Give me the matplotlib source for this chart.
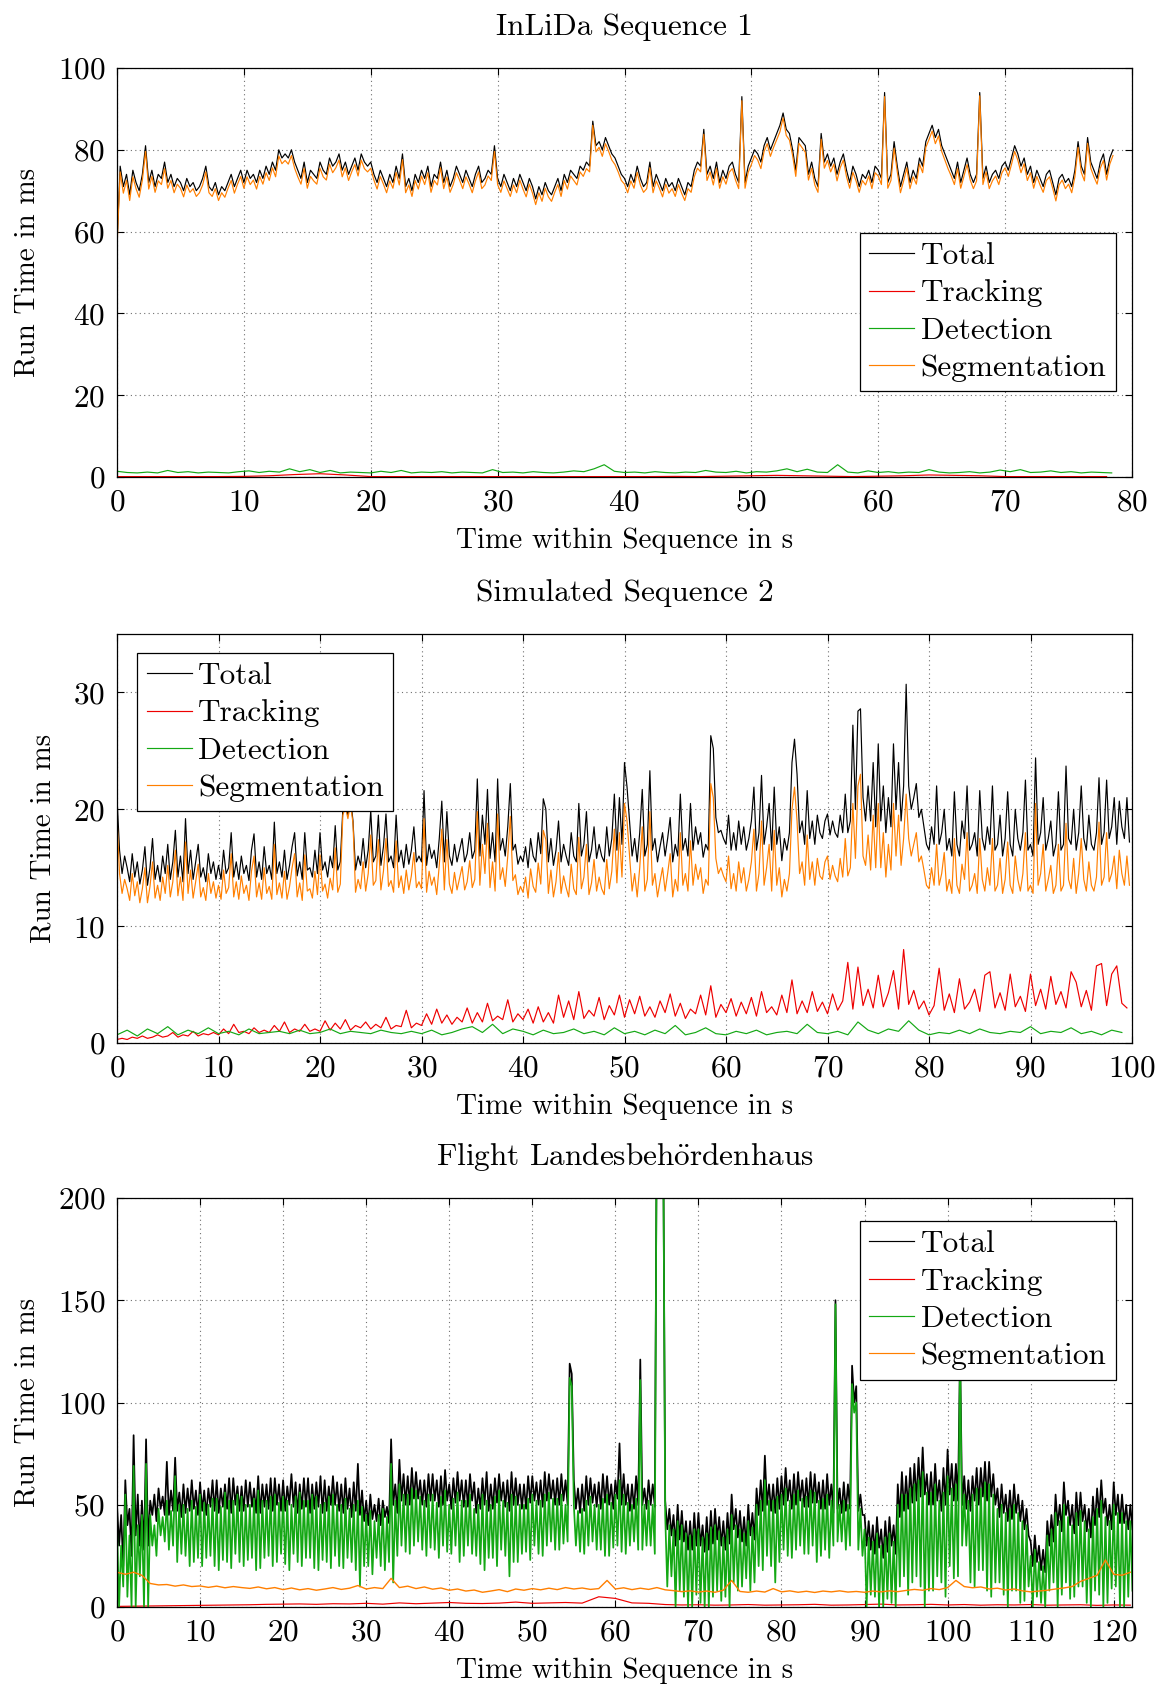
import numpy as np
import matplotlib
matplotlib.use("Agg")
import matplotlib.pyplot as plt
from matplotlib.lines import Line2D

plt.rcParams['font.family'] = 'serif'
plt.rcParams['font.serif'] = ['cmr10', 'DejaVu Serif']
plt.rcParams['mathtext.fontset'] = 'cm'
plt.rcParams['axes.formatter.use_mathtext'] = True
plt.rcParams['axes.unicode_minus'] = False

FS = 22.5       # titles, ticks, legend
FS_LAB = 21     # axis labels
C_TOT, C_TRK, C_DET, C_SEG = 'black', '#ee0000', '#14a814', '#ff7f00'
names = ['Total', 'Tracking', 'Detection', 'Segmentation']

# ---------- InLiDa Sequence 1 (total / segmentation every 0.25 s) ----------
dt1 = 0.25
total1 = [57, 76, 71, 74, 69, 75, 72, 70, 74, 81, 72, 75, 71, 74, 73, 77, 72, 74, 71, 73,
          72, 70, 73, 71, 72, 70, 71, 73, 76, 71, 70, 72, 69, 71, 70, 72, 74, 71, 73, 75,
          72, 75, 73, 74, 72, 75, 73, 76, 74, 77, 75, 80, 78, 79, 78, 80, 77, 75, 73, 77,
          72, 75, 74, 73, 77, 75, 74, 78, 76, 77, 79, 75, 77, 74, 76, 78, 75, 79, 77, 76,
          77, 74, 72, 75, 73, 71, 74, 72, 76, 73, 79, 71, 73, 70, 74, 72, 75, 73, 76, 71,
          74, 73, 77, 72, 75, 71, 73, 76, 74, 72, 75, 73, 71, 74, 76, 72, 73, 75, 74, 81,
          73, 71, 74, 72, 70, 73, 71, 74, 72, 70, 73, 71, 68, 71, 69, 72, 70, 69, 71, 73,
          70, 74, 72, 75, 74, 73, 76, 75, 77, 76, 87, 81, 82, 80, 83, 81, 79, 78, 76, 74,
          73, 71, 74, 72, 76, 73, 71, 72, 77, 71, 74, 72, 70, 73, 71, 72, 70, 73, 71, 69,
          72, 71, 75, 77, 76, 85, 74, 76, 73, 77, 72, 75, 73, 76, 77, 74, 72, 93, 72, 76,
          78, 80, 79, 77, 81, 83, 80, 82, 84, 86, 89, 85, 84, 80, 75, 83, 82, 81, 74, 77,
          73, 71, 84, 77, 79, 76, 78, 74, 77, 79, 75, 72, 76, 74, 71, 74, 73, 75, 72, 76,
          75, 73, 94, 72, 74, 82, 76, 71, 74, 77, 72, 75, 73, 78, 76, 82, 84, 86, 83, 85,
          81, 79, 77, 75, 73, 77, 72, 75, 78, 74, 72, 74, 94, 73, 76, 72, 74, 75, 73, 76,
          77, 75, 78, 81, 79, 76, 78, 74, 76, 72, 75, 73, 71, 74, 75, 72, 69, 73, 74, 72,
          73, 71, 75, 82, 76, 74, 83, 77, 75, 73, 77, 79, 74, 78, 80]
seg1 = [56, 74.6, 69.4, 72.5, 67.6, 73.4, 70.5, 68.4, 72.6, 79.6, 70.4, 73.5, 69.6, 72.4, 71.5, 75.4, 70.6, 72.5, 69.5, 71.6,
        70.6, 68.5, 71.4, 69.6, 70.5, 68.6, 69.5, 71.4, 74.6, 69.5, 68.6, 70.5, 67.6, 69.5, 68.4, 70.6, 72.5, 69.4, 71.6, 73.5,
        70.6, 73.4, 71.5, 72.6, 70.4, 73.5, 71.6, 74.4, 72.5, 75.6, 73.4, 78.5, 76.6, 77.4, 76.5, 78.6, 75.5, 73.4, 71.6, 75.5,
        70.6, 73.5, 72.4, 71.6, 75.5, 73.4, 72.6, 76.5, 74.4, 75.6, 77.5, 73.4, 75.6, 72.5, 74.6, 76.4, 73.6, 77.5, 75.4, 74.6,
        75.5, 72.6, 70.4, 73.5, 71.6, 69.5, 72.4, 70.6, 74.5, 71.4, 77.6, 69.5, 71.4, 68.6, 72.5, 70.4, 73.6, 71.5, 74.4, 69.6,
        72.5, 71.4, 75.6, 70.5, 73.4, 69.6, 71.5, 74.4, 72.6, 70.5, 73.4, 71.6, 69.5, 72.4, 74.6, 70.5, 71.4, 73.6, 72.5, 79.6,
        71.5, 69.6, 72.4, 70.5, 68.6, 71.4, 69.5, 72.6, 70.4, 68.5, 71.6, 69.4, 66.6, 69.5, 67.4, 70.6, 68.5, 67.4, 69.6, 71.5,
        68.6, 72.5, 70.4, 73.6, 72.5, 71.4, 74.6, 73.5, 75.4, 74.6, 86, 79.5, 80.6, 78.4, 81.5, 79.6, 77.5, 76.4, 74.6, 72.5,
        71.6, 69.5, 72.4, 70.6, 74.5, 71.4, 69.6, 70.5, 75.6, 69.5, 72.4, 70.6, 68.5, 71.6, 69.4, 70.5, 68.6, 71.5, 69.4, 67.6,
        70.5, 69.6, 73.4, 75.5, 74.6, 83.8, 72.5, 74.6, 71.4, 75.5, 70.6, 73.4, 71.6, 74.5, 75.4, 72.6, 70.5, 92, 70.6, 74.5,
        76.4, 78.6, 77.5, 75.4, 79.6, 81.5, 78.4, 80.6, 82.5, 84.4, 87.8, 83.5, 82.4, 78.6, 73.5, 81.6, 80.5, 79.4, 72.6, 75.5,
        71.4, 69.6, 82.6, 75.5, 77.4, 74.6, 76.5, 72.4, 75.6, 77.5, 73.4, 70.6, 74.5, 72.4, 69.6, 72.5, 71.4, 73.6, 70.5, 74.4,
        73.6, 71.5, 93, 70.6, 72.5, 80.4, 74.6, 69.5, 72.4, 75.6, 70.5, 73.4, 71.6, 76.5, 74.4, 80.6, 82.5, 84.6, 81.5, 83.4,
        79.6, 77.5, 75.4, 73.6, 71.5, 75.4, 70.6, 73.5, 76.4, 72.6, 70.5, 72.4, 93.2, 71.5, 74.6, 70.5, 72.4, 73.6, 71.5, 74.4,
        75.6, 73.5, 76.4, 79.6, 77.5, 74.4, 76.6, 72.5, 74.4, 70.6, 73.5, 71.4, 69.6, 72.5, 73.4, 70.6, 67.5, 71.4, 72.6, 70.5,
        71.6, 69.5, 73.4, 80.6, 74.5, 72.4, 81.6, 75.5, 73.4, 71.6, 75.5, 77.4, 72.6, 76.5, 78.6]
dt1_det = 0.8
det1 = [1.4, 1.1, 1.0, 1.2, 1.0, 1.6, 1.1, 1.3, 1.0, 1.2, 1.1, 1.0, 1.3, 1.5, 1.1, 1.4, 1.2, 2.0, 1.3, 1.8,
        1.1, 1.6, 1.0, 1.2, 1.1, 1.0, 1.4, 1.1, 1.6, 1.0, 1.2, 1.1, 1.3, 1.0, 1.2, 1.1, 1.0, 1.8, 1.1, 1.2,
        1.0, 1.3, 1.1, 1.0, 1.2, 1.5, 1.3, 2.0, 3.0, 1.4, 1.1, 1.2, 1.0, 1.3, 1.1, 1.0, 1.2, 1.1, 1.6, 1.2,
        1.1, 1.4, 1.0, 1.3, 1.2, 1.5, 2.0, 1.3, 1.9, 1.2, 1.1, 3.0, 1.2, 1.0, 1.5, 1.1, 1.3, 1.0, 1.2, 1.1,
        1.8, 1.2, 1.0, 1.1, 1.3, 1.0, 1.2, 1.7, 1.3, 1.8, 1.1, 1.2, 1.5, 1.1, 1.3, 1.0, 1.2, 1.1, 1.0]
dt1_trk = 2.0
trk1 = [0.1, 0.1, 0.1, 0.1, 0.1, 0.15, 0.3, 0.6, 0.8, 0.5, 0.1, 0.1, 0.1, 0.1, 0.1, 0.1, 0.1, 0.1, 0.1, 0.1,
        0.1, 0.1, 0.15, 0.1, 0.2, 0.3, 0.4, 0.3, 0.2, 0.1, 0.2, 0.3, 0.5, 0.4, 0.3, 0.1, 0.1, 0.1, 0.1, 0.1]

# ---------- Simulated Sequence 2 (total / segmentation every 0.25 s) ----------
dt2 = 0.25
total2 = [21, 16.5, 14.5, 16, 15, 13.8, 16.2, 14.2, 15.5, 13.6, 14.8, 16.8, 13.5, 15, 17.5, 14, 15.2, 13.8, 16, 14.5,
          17, 14, 15.5, 18.2, 14.2, 16, 13.8, 19.2, 14.5, 16.5, 14, 15.5, 17, 14.2, 15, 13.8, 16.2, 14.5, 15.5, 14,
          15.2, 14, 16.5, 14.5, 15, 18, 14.2, 15.5, 14, 16, 14.5, 15.2, 13.9, 16.5, 17.9, 14.2, 15.5, 14, 16.8, 14.5,
          15.2, 14, 18.9, 14.5, 15.5, 14.2, 16.5, 14, 15.2, 16.8, 18, 14.3, 15.5, 14, 18, 14.8, 15, 14.2, 16.5, 14.5,
          18, 14.8, 15.5, 14.2, 16, 15, 18.6, 14.8, 15.5, 20, 20.5, 19.5, 21, 19, 14.8, 16, 15.2, 17.5, 15, 16.5,
          19.9, 15.5, 16, 19.5, 15.2, 16.8, 19.6, 15.5, 16, 15, 19.5, 15.5, 16.5, 15, 17, 15.3, 16.5, 18.5, 15.5, 16,
          15.5, 21.6, 15.2, 17, 15.8, 16.5, 15, 17.5, 20.7, 15.5, 19.8, 16, 15.2, 17, 15.5, 16.5, 17.5, 15.5, 16.2, 18,
          15.8, 16.5, 22.6, 16, 19.5, 17, 21.7, 15.8, 18, 15.5, 22.6, 16.5, 17.5, 16, 18.5, 22.2, 16.5, 17, 15.3, 16,
          15.5, 16.8, 15, 17.5, 16, 15.5, 18, 16.2, 20.9, 20, 15.5, 17.5, 15.2, 16.5, 19, 15.5, 17, 16, 15.2, 18,
          16, 15.5, 20.5, 16, 17, 19.8, 15.5, 16.5, 18.5, 15.8, 17, 16, 15.5, 18.5, 16, 17.5, 21.3, 16.5, 21, 17,
          24, 21.9, 19, 16, 17.5, 15.5, 18, 21.7, 16, 17, 23.3, 16.5, 17.5, 15.5, 16.8, 18, 16, 17.5, 19.3, 15.5,
          17, 16, 21.3, 16.5, 17.5, 16, 20.5, 16.5, 18.5, 17, 18, 15.9, 17, 16.5, 26.3, 25.2, 19.3, 18, 18.2, 17.5,
          17, 19.5, 16.5, 18, 16.5, 19, 17, 18.5, 16.5, 17.5, 19, 21.9, 16.5, 18, 22.9, 17, 18.5, 20.5, 16.5, 21.9,
          17, 18.5, 15.6, 17.5, 16.5, 18, 24, 26, 23, 18, 19, 17, 21.6, 17.5, 19, 17, 19.5, 18, 17.5, 19,
          19.6, 17.8, 19, 18, 17.6, 19.5, 18, 21.3, 18, 19, 27.2, 20, 28.4, 28.6, 21, 19, 22, 19, 24, 18.5,
          25.6, 19, 22, 18, 21, 18.5, 25.6, 20, 24, 19, 22, 30.7, 22, 20, 21, 22.2, 19.3, 20, 18.5, 17,
          16.5, 18.5, 17, 22, 17, 18, 20, 16.5, 17.5, 16, 21.5, 17, 16, 19, 17.5, 22, 16.5, 17, 18, 16,
          21.6, 17.5, 16.5, 18.5, 17, 22, 16.5, 17, 19.5, 16, 17.5, 21.5, 17, 16, 20, 17.5, 16.5, 18, 22.5, 16.5,
          17, 16, 24.4, 17, 18, 21, 16.5, 17.5, 19, 16, 17, 21.5, 16.5, 17, 23.7, 17.5, 17, 20, 16.5, 18,
          22, 17.5, 16.5, 19.5, 17, 16.5, 18, 22.7, 17, 18, 22.5, 17.5, 18.5, 21, 17, 20.7, 18.5, 17.5, 21, 17.2]
seg2 = [19.3, 14.5, 12.8, 14, 13.2, 12.2, 14.5, 12.6, 13.8, 12, 13.2, 15, 12, 13.4, 15.5, 12.4, 13.5, 12.2, 14.2, 12.8,
        15.2, 12.5, 13.8, 16.5, 12.6, 14.2, 12.2, 17.2, 12.8, 14.8, 12.4, 13.8, 15.3, 12.5, 13.3, 12.2, 14.5, 12.8, 13.8, 12.4,
        13.5, 12.3, 14.8, 12.8, 13.3, 16.2, 12.5, 13.8, 12.3, 14.3, 12.8, 13.5, 12.2, 14.7, 16, 12.5, 13.7, 12.3, 15, 12.8,
        13.4, 12.3, 17, 12.7, 13.7, 12.4, 14.7, 12.3, 13.4, 15, 16.2, 12.5, 13.7, 12.2, 16.1, 13, 13.2, 12.4, 14.7, 12.7,
        16.1, 13, 13.6, 12.4, 14.1, 13.1, 16.7, 12.9, 13.6, 19.5, 20.2, 19.2, 20.5, 18.8, 12.9, 14, 13.2, 15.5, 13, 14.5,
        17.8, 13.5, 13.9, 17.4, 13.1, 14.7, 17.5, 13.4, 13.9, 12.9, 17.3, 13.3, 14.3, 12.8, 14.8, 13.1, 14.3, 16.3, 13.3, 13.8,
        13.2, 19.2, 12.9, 14.7, 13.5, 14.2, 12.7, 15.2, 18.3, 13.1, 17.4, 13.6, 12.8, 14.6, 13.1, 14.1, 15.1, 13.1, 13.8, 15.6,
        13.3, 14, 19.8, 13.5, 17, 14.5, 18.8, 13.3, 15.5, 13, 19.6, 14, 15, 13.4, 16, 19.4, 13.9, 14.4, 12.7, 13.4,
        12.9, 14.2, 12.4, 14.9, 13.4, 12.9, 15.4, 13.6, 18.2, 17.4, 12.8, 14.8, 12.5, 13.8, 16.3, 12.8, 14.3, 13.3, 12.5, 15.3,
        13.2, 12.7, 17.6, 13.2, 14.2, 17, 12.7, 13.7, 15.7, 13, 14.2, 13.2, 12.7, 15.7, 13.2, 14.7, 18.3, 13.7, 18, 14.2,
        20.5, 19, 16, 13, 14.5, 12.5, 15, 18.5, 13, 14, 19.8, 13.5, 14.5, 12.5, 13.8, 15, 13, 14.5, 16.2, 12.5,
        14, 13, 18, 13.5, 14.5, 13, 17.3, 13.5, 15.3, 14, 15, 12.8, 14, 13.5, 22.2, 21, 15.8, 14.5, 15, 14.3,
        13.8, 16, 13.2, 14.5, 13, 15.5, 13.7, 15, 13, 14, 15.5, 18.3, 13, 14.5, 19, 13.5, 15, 17, 13, 18.2,
        13.5, 15, 12.5, 14, 13, 14.5, 20, 21.9, 19, 14.5, 15.5, 13.5, 17.8, 14, 15.5, 13.5, 15.8, 14.3, 14, 15.5,
        16, 14, 15.2, 14.3, 13.8, 15.8, 14.2, 17.5, 14.3, 15, 20.5, 15.8, 22, 23, 16, 15.2, 17.8, 14.8, 19.5, 15,
        20.5, 15, 18, 14.2, 17, 14.8, 20.5, 16, 19.5, 15.2, 17.5, 21.3, 17.5, 16, 17, 18, 15.5, 16, 14.8, 13.5,
        13.2, 15, 13.5, 17, 13.5, 14.5, 16.3, 13, 14, 12.8, 17.5, 13.5, 12.8, 15.3, 14, 18, 13, 13.5, 14.5, 12.8,
        17.5, 14, 13, 15, 13.5, 17.5, 13, 13.5, 15.8, 12.8, 14, 17.2, 13.5, 12.8, 16, 14, 13, 14.5, 18, 13,
        13.5, 12.8, 20.5, 13.5, 14.5, 17, 13, 14, 15.2, 12.8, 13.5, 17, 13, 13.5, 18.8, 14, 13.2, 15.8, 12.8, 14.5,
        17.5, 14, 13, 15.5, 13.5, 13, 14.2, 18.9, 13.5, 14.2, 18, 13.8, 14.5, 16, 13.2, 16.5, 14.5, 13.5, 16, 13.5]
dt2_trk = 0.5
trk2 = [0.3, 0.4, 0.3, 0.5, 0.4, 0.6, 0.4, 0.5, 0.7, 0.5, 0.6, 0.9, 0.5, 0.7, 0.6, 1.0, 0.6, 0.8, 0.7, 0.9,
        0.7, 1.2, 0.8, 1.6, 0.9, 1.0, 0.8, 1.3, 0.9, 1.1, 0.9, 1.5, 1.0, 1.8, 0.9, 1.2, 1.0, 1.6, 1.0, 1.2,
        1.0, 1.9, 1.1, 1.7, 1.2, 2.0, 1.1, 1.5, 1.3, 1.8, 1.2, 1.6, 1.3, 2.2, 1.2, 1.5, 1.4, 2.8, 1.3, 1.7,
        1.5, 2.5, 1.6, 2.9, 1.7, 2.4, 1.6, 2.2, 1.8, 3.0, 1.7, 2.6, 1.8, 3.4, 1.9, 2.3, 2.0, 3.7, 1.8, 2.5,
        2.0, 2.9, 1.7, 3.1, 1.8, 2.6, 1.7, 4.1, 2.2, 3.6, 2.0, 4.4, 2.1, 2.8, 2.3, 3.9, 2.0, 3.2, 2.4, 4.1,
        2.2, 3.7, 2.5, 4.0, 2.3, 3.1, 2.2, 3.6, 2.6, 4.2, 2.3, 3.4, 2.1, 2.9, 2.5, 4.1, 2.4, 4.9, 2.2, 3.3,
        2.6, 3.8, 2.3, 3.5, 2.5, 3.9, 2.3, 4.4, 2.6, 3.1, 2.4, 4.1, 2.6, 5.4, 2.5, 3.6, 2.6, 4.4, 2.7, 3.5,
        2.5, 4.2, 2.8, 3.6, 6.9, 2.9, 6.5, 3.2, 4.6, 3.0, 5.8, 3.1, 4.3, 6.2, 2.9, 8.0, 3.3, 4.5, 2.9, 3.6,
        2.4, 3.2, 6.4, 2.8, 4.2, 2.6, 5.5, 2.9, 3.5, 4.6, 2.7, 5.8, 6.1, 3.0, 4.3, 2.8, 5.9, 3.1, 4.0, 2.7,
        5.9, 3.2, 4.6, 2.9, 5.7, 3.3, 4.4, 3.0, 6.1, 5.2, 3.1, 4.5, 2.8, 6.6, 6.8, 3.2, 5.9, 6.6, 3.4, 3.0]
dt2_det = 1.0
det2 = [0.7, 1.1, 0.6, 1.2, 0.8, 1.4, 0.7, 1.1, 0.8, 1.3, 0.8, 1.0, 0.7, 1.2, 0.8, 0.9, 1.0, 0.8, 1.1, 0.8,
        0.9, 1.2, 0.8, 1.0, 0.9, 0.8, 1.1, 0.9, 0.8, 1.0, 0.8, 1.1, 0.7, 0.9, 1.2, 1.4, 0.9, 1.6, 0.8, 1.2,
        1.0, 0.7, 1.1, 0.8, 0.9, 1.2, 0.8, 1.0, 0.7, 1.3, 0.8, 1.0, 0.7, 1.1, 0.8, 1.5, 0.7, 0.9, 1.3, 0.8,
        0.7, 1.0, 0.8, 1.1, 0.7, 0.9, 1.0, 0.8, 1.6, 0.9, 0.8, 1.0, 0.7, 1.8, 1.1, 0.8, 1.2, 1.0, 1.9, 1.1,
        0.7, 0.9, 0.8, 1.1, 0.8, 1.2, 0.9, 0.8, 1.0, 0.9, 1.4, 0.8, 1.0, 0.9, 1.3, 0.8, 1.0, 0.7, 1.1, 0.9]

# ---------- Flight Landesbehoerdenhaus ----------
# dense bands: upper and lower reading every 0.5 s
dt3_band = 0.5
total3_hi = [50, 45, 62, 48, 84, 55, 52, 82, 52, 55,
             58, 54, 71, 57, 73, 56, 60, 58, 62, 57,
             61, 57, 58, 62, 62, 58, 60, 63, 63, 59,
             59, 62, 61, 58, 64, 60, 60, 63, 63, 60,
             62, 59, 65, 61, 60, 63, 63, 60, 61, 64,
             62, 59, 64, 61, 60, 63, 58, 61, 70, 57,
             52, 55, 50, 53, 52, 49, 82, 60, 72, 65,
             64, 68, 66, 62, 62, 65, 65, 62, 64, 67,
             60, 63, 66, 62, 62, 65, 61, 58, 63, 66,
             60, 63, 65, 61, 62, 66, 63, 60, 60, 64,
             64, 61, 62, 66, 65, 62, 63, 65, 62, 119,
             62, 58, 60, 64, 63, 60, 61, 65, 64, 60,
             62, 80, 65, 60, 60, 64, 121, 58, 62, 60,
             250, 250, 52, 48, 45, 50, 47, 42, 42, 46,
             46, 40, 44, 47, 48, 44, 42, 46, 55, 48,
             47, 44, 50, 46, 58, 62, 74, 60, 60, 63,
             64, 68, 62, 65, 66, 62, 63, 66, 65, 61,
             62, 65, 60, 150, 58, 61, 60, 118, 108, 55,
             45, 42, 40, 44, 38, 42, 44, 40, 60, 66,
             64, 68, 70, 73, 78, 65, 66, 70, 62, 68,
             77, 70, 70, 125, 64, 62, 64, 68, 68, 71,
             71, 65, 58, 60, 55, 57, 60, 55, 52, 48,
             32, 35, 30, 28, 42, 45, 55, 50, 61, 52,
             50, 56, 56, 50, 48, 54, 58, 62, 53, 50,
             61, 55, 55, 50, 50]
total3_lo = [30, 20, 40, 25, 35, 30, 28, 30, 45, 42,
             48, 45, 45, 47, 47, 44, 46, 47, 48, 45,
             47, 45, 49, 47, 46, 49, 48, 46, 50, 47,
             47, 49, 49, 46, 46, 49, 48, 47, 50, 47,
             47, 50, 49, 46, 48, 49, 46, 48, 49, 46,
             47, 50, 50, 47, 46, 48, 44, 47, 45, 42,
             40, 43, 42, 40, 44, 41, 50, 46, 52, 50,
             50, 53, 53, 50, 49, 52, 52, 49, 50, 52,
             48, 51, 52, 49, 49, 52, 46, 48, 50, 47,
             48, 51, 52, 49, 47, 50, 50, 48, 48, 51,
             52, 50, 49, 52, 53, 50, 50, 52, 50, 114,
             48, 46, 47, 50, 51, 49, 48, 51, 50, 48,
             53, 50, 50, 47, 48, 50, 50, 48, 50, 49,
             245, 240, 38, 35, 30, 33, 32, 28, 28, 30,
             30, 27, 28, 31, 33, 30, 28, 31, 38, 34,
             32, 30, 35, 33, 45, 47, 50, 47, 46, 48,
             50, 52, 48, 50, 52, 49, 49, 51, 51, 48,
             48, 50, 46, 48, 46, 47, 48, 100, 47, 45,
             30, 28, 26, 29, 24, 27, 30, 26, 44, 47,
             48, 51, 52, 54, 55, 50, 50, 52, 47, 50,
             55, 52, 52, 50, 48, 47, 52, 50, 54, 52,
             54, 50, 44, 46, 42, 43, 46, 42, 38, 35,
             20, 22, 18, 17, 30, 32, 40, 37, 45, 40,
             36, 40, 42, 37, 34, 40, 44, 46, 40, 38,
             45, 41, 41, 38, 38]
det3_hi = [40, 30, 55, 35, 69, 40, 45, 70, 45, 40,
           48, 44, 52, 47, 64, 50, 50, 48, 52, 49,
           55, 51, 50, 53, 53, 49, 56, 52, 52, 55,
           54, 50, 50, 53, 57, 52, 52, 54, 55, 51,
           54, 52, 50, 54, 56, 52, 52, 55, 54, 50,
           51, 54, 55, 50, 50, 53, 48, 50, 52, 49,
           45, 47, 42, 45, 48, 44, 70, 52, 60, 55,
           55, 58, 57, 54, 52, 55, 55, 51, 54, 57,
           50, 53, 56, 52, 52, 55, 48, 50, 55, 52,
           50, 54, 57, 52, 51, 55, 54, 50, 50, 53,
           55, 52, 52, 55, 56, 53, 53, 55, 50, 112,
           50, 47, 48, 52, 54, 50, 50, 53, 55, 51,
           55, 62, 55, 51, 50, 53, 111, 50, 52, 50,
           260, 255, 45, 40, 38, 42, 40, 36, 35, 38,
           38, 34, 36, 39, 40, 37, 34, 38, 45, 40,
           38, 36, 42, 39, 50, 52, 62, 52, 52, 54,
           55, 58, 52, 55, 57, 53, 54, 57, 56, 52,
           53, 55, 52, 148, 50, 52, 50, 109, 100, 48,
           38, 34, 32, 36, 30, 34, 36, 32, 50, 55,
           55, 58, 60, 62, 66, 56, 56, 60, 52, 56,
           64, 58, 60, 125, 55, 52, 55, 58, 58, 61,
           60, 55, 48, 50, 46, 48, 50, 46, 42, 40,
           25, 28, 22, 20, 35, 38, 46, 42, 50, 44,
           40, 46, 47, 42, 38, 44, 48, 52, 44, 42,
           50, 46, 46, 42, 42]
det3_lo = [0, 10, 5, 0, 0, 15, 0, 0, 30, 25,
           35, 32, 28, 30, 22, 26, 25, 20, 22, 24,
           20, 24, 25, 20, 18, 23, 22, 19, 26, 22,
           20, 23, 24, 18, 19, 24, 25, 20, 22, 26,
           21, 18, 26, 22, 20, 24, 24, 19, 18, 23,
           22, 19, 25, 20, 19, 24, 22, 18, 10, 20,
           20, 16, 24, 20, 18, 22, 12, 25, 30, 27,
           26, 30, 32, 28, 25, 29, 28, 24, 30, 27,
           26, 30, 22, 25, 30, 26, 25, 21, 18, 24,
           24, 20, 28, 25, 15, 22, 22, 26, 27, 23,
           30, 26, 25, 30, 32, 28, 28, 31, 32, 108,
           30, 27, 26, 30, 32, 28, 28, 25, 25, 29,
           30, 27, 26, 30, 32, 28, 28, 30, 30, 26,
           250, 240, 10, 15, 0, 8, 5, 0, 0, 6,
           2, 0, 0, 5, 8, 3, 5, 0, 12, 8,
           10, 14, 8, 12, 20, 18, 25, 20, 12, 22,
           28, 25, 24, 28, 30, 26, 26, 30, 22, 25,
           28, 24, 30, 32, 32, 28, 30, 95, 28, 25,
           0, 6, 5, 0, 0, 4, 2, 0, 10, 15,
           6, 12, 15, 10, 0, 8, 8, 15, 12, 5,
           20, 14, 15, 30, 30, 12, 10, 18, 18, 8,
           5, 12, 12, 6, 0, 8, 8, 2, 3, 10,
           0, 5, 2, 0, 8, 12, 0, 6, 12, 4,
           5, 10, 10, 2, 0, 8, 6, 0, 2, 9,
           10, 0, 0, 5, 8]
dt3_seg = 1.0
seg3 = [17, 16, 17, 15.5, 11.5, 10.8, 11, 10.2, 10.8, 10, 10.3, 9.6, 10.2, 9.4, 10, 9.5, 9.1, 9.8, 8.9, 9.5,
        8.5, 9.3, 8.4, 9, 8.2, 8.8, 9.5, 8.6, 9.2, 10.5, 8.8, 9.5, 9, 14, 9.5, 10.2, 9, 9.8, 8.7, 9.3,
        8.2, 8.8, 7.8, 8.3, 7.2, 7.8, 8.5, 7.5, 8.8, 8.2, 9, 8.4, 9.2, 8.5, 9.5, 8.8, 9.3, 8.6, 9, 13,
        8.8, 9.4, 8.5, 9.2, 8.6, 9.5, 8.4, 8, 7.5, 7.9, 7.3, 7.8, 7.2, 8.2, 13, 7.6, 7.2, 7.8, 7.3, 9,
        7.4, 7.9, 7.2, 7.7, 7.1, 7.8, 7.4, 7.9, 7.3, 7.6, 7.2, 7.8, 7.4, 7.9, 7.5, 8.1, 8.6, 8.2, 9, 8.5,
        9.5, 13, 10, 9.4, 9.8, 8.8, 9.2, 8.3, 8.8, 7.9, 7.4, 7.8, 8.2, 8.8, 9.3, 10, 12.5, 14, 15.5, 23,
        16, 15.5, 17]
dt3_trk = 2.0
trk3 = [0.3, 0.4, 0.5, 0.6, 0.7, 0.8, 0.9, 1.0, 1.1, 1.3, 1.4, 1.5, 1.3, 1.6, 1.5, 1.8, 1.4, 2.0, 1.6, 1.9,
        2.2, 1.8, 1.7, 1.9, 2.4, 1.8, 2.0, 2.2, 1.9, 5.0, 4.2, 2.0, 1.8, 1.2, 1.0, 1.1, 0.9, 1.0, 1.2, 0.9,
        1.0, 1.1, 1.3, 0.9, 1.0, 1.2, 1.4, 1.0, 1.1, 1.3, 1.0, 1.2, 0.9, 1.1, 1.0, 1.2, 0.9, 1.0, 1.1, 0.8,
        1.0, 0.9]


def times(vals, dt):
    return np.arange(len(vals)) * dt


def band(hi, lo, dt):
    n = min(len(hi), len(lo))
    t = np.arange(n) * dt
    return (np.column_stack([t, t + dt / 2]).ravel(),
            np.column_stack([hi[:n], lo[:n]]).ravel())


W, H = 1158, 1685
fig = plt.figure(figsize=(W / 100, H / 100), dpi=100)
lw = 0.85


def make_axes(top_px):
    return fig.add_axes([117 / W, (H - top_px - 409) / H, 1015 / W, 409 / H])


def style(ax, title, xmax, xt, ymax, yt):
    ax.set_xlim(0, xmax)
    ax.set_ylim(0, ymax)
    ax.set_xticks(xt)
    ax.set_yticks(yt)
    ax.grid(True, color='#707070', linestyle=(0, (1, 3)), linewidth=0.8)
    ax.tick_params(direction='in', top=True, right=True, length=5, width=0.8,
                   labelsize=FS, pad=8.5)
    for s in ax.spines.values():
        s.set_linewidth(0.9)
    ax.set_title(title, fontsize=FS, pad=24)
    ax.set_xlabel('Time within Sequence in s', fontsize=FS_LAB, labelpad=8)
    ax.set_ylabel('Run Time in ms', fontsize=FS_LAB, labelpad=12)


def legend(ax, loc, anchor):
    handles = [Line2D([], [], color=c, lw=lw) for c in (C_TOT, C_TRK, C_DET, C_SEG)]
    leg = ax.legend(handles, names, loc=loc, bbox_to_anchor=anchor, fontsize=FS, fancybox=False,
                    framealpha=1, edgecolor='black', handlelength=1.45, handletextpad=0.2,
                    labelspacing=0.3, borderpad=0.3, borderaxespad=0)
    leg.get_frame().set_linewidth(0.9)


ax1 = make_axes(68)
ax1.plot(times(total1, dt1), total1, color=C_TOT, lw=lw)
ax1.plot(times(trk1, dt1_trk), trk1, color=C_TRK, lw=lw)
ax1.plot(times(det1, dt1_det), det1, color=C_DET, lw=lw)
ax1.plot(times(seg1, dt1), seg1, color=C_SEG, lw=lw)
style(ax1, 'InLiDa Sequence 1', 80, range(0, 81, 10), 100, range(0, 101, 20))
legend(ax1, 'upper right', (0.984, 0.597))

ax2 = make_axes(634)
ax2.plot(times(total2, dt2), total2, color=C_TOT, lw=lw)
ax2.plot(times(trk2, dt2_trk), trk2, color=C_TRK, lw=lw)
ax2.plot(times(det2, dt2_det), det2, color=C_DET, lw=lw)
ax2.plot(times(seg2, dt2), seg2, color=C_SEG, lw=lw)
style(ax2, 'Simulated Sequence 2', 100, range(0, 101, 10), 35, range(0, 31, 10))
legend(ax2, 'upper left', (0.02, 0.954))

ax3 = make_axes(1198)
tb, yb = band(total3_hi, total3_lo, dt3_band)
ax3.plot(tb, yb, color=C_TOT, lw=1.25)
ax3.plot(times(trk3, dt3_trk), trk3, color=C_TRK, lw=lw)
tb, yb = band(det3_hi, det3_lo, dt3_band)
ax3.plot(tb, yb, color=C_DET, lw=1.25)
ax3.plot(times(seg3, dt3_seg), seg3, color=C_SEG, lw=1.0)
style(ax3, r'Flight Landesbeh$\ddot{\mathrm{o}}$rdenhaus', 122.2, range(0, 121, 10), 200,
      range(0, 201, 50))
legend(ax3, 'upper right', (0.984, 0.944))

fig.savefig('out.png', dpi=100)
